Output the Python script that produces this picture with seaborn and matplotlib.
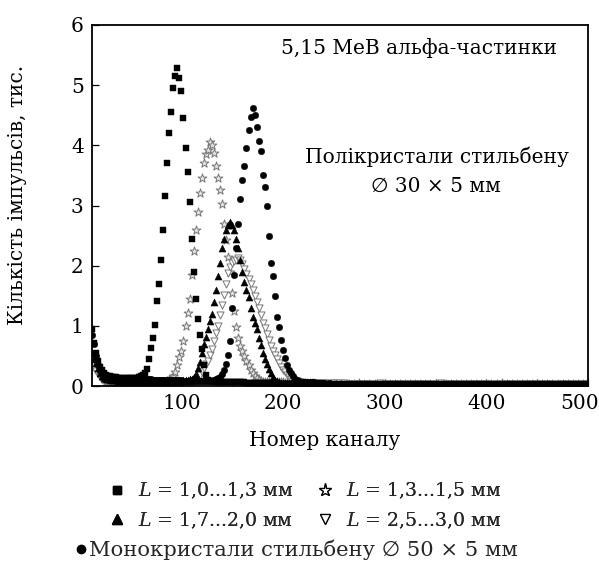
import numpy as np
import pandas as pd
import matplotlib
matplotlib.use("Agg")
import matplotlib.pyplot as plt
import matplotlib.transforms as mtransforms
from matplotlib.lines import Line2D
from matplotlib.ticker import MultipleLocator
import seaborn as sns

# ---------------- data ----------------
PEAK_CHANNELS = np.arange(12, 241, 2)     # channels 12..240
TAIL_CHANNELS = np.arange(245, 501, 5)    # channels 245..500

squares_peak = [
    0.95, 0.72, 0.55, 0.42, 0.32, 0.26, 0.22, 0.19, 0.17, 0.16,
    0.15, 0.15, 0.15, 0.14, 0.14, 0.14, 0.14, 0.14, 0.14, 0.14, 0.14, 0.14, 0.14, 0.15, 0.16, 0.18,
    0.21, 0.28, 0.45, 0.63, 0.80, 1.02, 1.42, 1.69, 2.10, 2.60, 3.15, 3.70, 4.20, 4.55, 4.95, 5.15,
    5.28, 5.12, 4.90, 4.45, 3.95, 3.56, 3.05, 2.45, 1.90, 1.45, 1.12, 0.85, 0.62, 0.35, 0.18, 0.10,
    0.08, 0.08, 0.08, 0.07, 0.07, 0.07, 0.07, 0.07, 0.06, 0.06,
    0.06, 0.06, 0.06, 0.06, 0.06, 0.06, 0.06, 0.06, 0.05, 0.05,
    0.05, 0.05, 0.05, 0.05, 0.05, 0.05, 0.05, 0.05, 0.05, 0.05,
    0.05, 0.05, 0.05, 0.05, 0.04, 0.04, 0.04, 0.04, 0.04, 0.04,
    0.04, 0.04, 0.04, 0.04, 0.04, 0.04, 0.04, 0.04, 0.04, 0.04,
    0.04, 0.04, 0.04, 0.04, 0.04, 0.04, 0.04,
]
stars_peak = [
    0.50, 0.42, 0.35, 0.28, 0.21, 0.16, 0.12, 0.09, 0.08, 0.07,
    0.06, 0.06, 0.05, 0.05, 0.05, 0.05, 0.05, 0.05, 0.05, 0.05, 0.05, 0.05, 0.05,
    0.05, 0.05, 0.05, 0.05, 0.05, 0.05, 0.05, 0.05, 0.05, 0.05, 0.05, 0.06, 0.06,
    0.07, 0.08, 0.10, 0.13, 0.17, 0.24, 0.35, 0.48, 0.58, 0.75,
    1.00, 1.22, 1.45, 1.85, 2.25, 2.60, 2.90, 3.20, 3.45, 3.70,
    3.85, 3.92, 4.05, 4.00, 3.88, 3.65, 3.45, 3.25, 3.02, 2.70,
    2.42, 2.15, 1.90, 1.55, 1.25, 0.98, 0.80, 0.66, 0.58, 0.50,
    0.42, 0.35, 0.27, 0.22, 0.16, 0.13, 0.10, 0.08, 0.07,
    0.06, 0.06, 0.06, 0.06, 0.06, 0.06, 0.06, 0.06, 0.06, 0.06,
    0.05, 0.05, 0.05, 0.05, 0.05, 0.05, 0.05, 0.05, 0.05, 0.05,
    0.05, 0.05, 0.05, 0.05, 0.05, 0.04, 0.04, 0.04, 0.04, 0.04,
]
tri_up_peak = [
    0.55, 0.45, 0.38, 0.30, 0.22, 0.17, 0.14, 0.12, 0.11, 0.10,
    0.10, 0.10, 0.10, 0.09, 0.09, 0.09, 0.09, 0.09, 0.09, 0.09,
    0.09, 0.09, 0.09, 0.09, 0.09, 0.09, 0.09, 0.09, 0.09, 0.09,
    0.09, 0.09, 0.09, 0.09, 0.09, 0.09, 0.09, 0.09, 0.09, 0.09,
    0.09, 0.09, 0.09, 0.09, 0.09, 0.10, 0.10, 0.10, 0.11,
    0.12, 0.15, 0.20, 0.30, 0.40, 0.55, 0.70, 0.82, 0.95, 1.08,
    1.20, 1.40, 1.60, 1.82, 2.05, 2.30, 2.45, 2.60, 2.68, 2.72,
    2.68, 2.60, 2.45, 2.30, 2.10, 1.90, 1.73, 1.60, 1.48, 1.30,
    1.15, 1.05, 0.95, 0.80, 0.68, 0.55, 0.45, 0.36, 0.28, 0.21,
    0.15, 0.10, 0.08, 0.06,
    0.05, 0.05, 0.05, 0.05, 0.05, 0.05, 0.05, 0.05, 0.05, 0.05,
    0.05, 0.05, 0.05, 0.05, 0.05, 0.05, 0.04, 0.04, 0.04, 0.04, 0.04, 0.04,
]
tri_down_peak = [
    0.35, 0.30, 0.25, 0.20, 0.15, 0.12, 0.10, 0.08, 0.07, 0.06,
    0.06, 0.06, 0.05, 0.06, 0.05, 0.05, 0.06, 0.05, 0.05, 0.05,
    0.05, 0.05, 0.05, 0.05, 0.05, 0.05, 0.05, 0.05, 0.05, 0.05,
    0.05, 0.05, 0.05, 0.05, 0.05, 0.05, 0.05, 0.05, 0.05, 0.05,
    0.05, 0.05, 0.05, 0.05, 0.05, 0.05, 0.05, 0.06, 0.06, 0.06,
    0.08, 0.10, 0.14, 0.18, 0.24, 0.30, 0.36, 0.42, 0.52, 0.62,
    0.75, 0.88, 1.00, 1.18, 1.35, 1.52, 1.70, 1.88, 1.98, 2.05,
    2.08, 2.10, 2.12, 2.10, 2.02, 1.94, 1.86, 1.78, 1.70, 1.60,
    1.50, 1.40, 1.30, 1.18, 1.05, 0.96, 0.86, 0.76, 0.66, 0.58,
    0.52, 0.45, 0.38, 0.32, 0.27, 0.23, 0.19, 0.15, 0.12, 0.10,
    0.09, 0.08, 0.07, 0.06,
    0.05, 0.05, 0.05, 0.05, 0.05, 0.05, 0.05, 0.05, 0.05, 0.05, 0.05,
]
circles_peak = [
    0.85, 0.70, 0.50, 0.35, 0.25, 0.20, 0.16, 0.14, 0.13, 0.12,
    0.12, 0.12, 0.11, 0.11, 0.11, 0.11, 0.11, 0.11, 0.11, 0.11,
    0.11, 0.11, 0.11, 0.11, 0.11, 0.11, 0.11, 0.11, 0.11, 0.11,
    0.10, 0.10, 0.10, 0.10, 0.10, 0.10, 0.10, 0.10, 0.10, 0.10,
    0.10, 0.10, 0.10, 0.10, 0.10, 0.09, 0.09, 0.09, 0.09, 0.09,
    0.09, 0.09, 0.09, 0.09, 0.09, 0.09, 0.09, 0.09, 0.09,
    0.09, 0.10, 0.11, 0.13, 0.15, 0.20, 0.27, 0.36, 0.52, 0.75,
    1.30, 1.85, 2.30, 2.70, 3.10, 3.42, 3.65, 3.95, 4.25, 4.47,
    4.62, 4.50, 4.30, 4.08, 3.90, 3.50, 3.30, 3.00, 2.50, 2.05,
    1.82, 1.50, 1.15, 0.98, 0.76, 0.60, 0.46, 0.35, 0.27, 0.21,
    0.16, 0.12, 0.10, 0.08, 0.07,
    0.06, 0.06, 0.06, 0.06, 0.06, 0.06, 0.05, 0.05, 0.05, 0.05, 0.05,
]

squares_tail = [
    0.04, 0.04, 0.04, 0.04, 0.04, 0.04, 0.04, 0.04, 0.04, 0.04, 0.04, 0.04, 0.04,
    0.03, 0.03, 0.03, 0.03, 0.03, 0.03, 0.03, 0.03, 0.03, 0.03, 0.03, 0.03, 0.03,
    0.03, 0.03, 0.03, 0.03, 0.03, 0.03, 0.03, 0.03, 0.03, 0.03, 0.03, 0.03, 0.03,
    0.03, 0.03, 0.03, 0.03, 0.03, 0.03, 0.03, 0.03, 0.03, 0.03, 0.03, 0.03, 0.03,
]
stars_tail = [
    0.04, 0.04, 0.04, 0.04, 0.04, 0.04, 0.05, 0.04, 0.04, 0.04, 0.04, 0.04, 0.04,
    0.04, 0.04, 0.04, 0.04, 0.04, 0.04, 0.04, 0.04, 0.04, 0.04, 0.04, 0.04, 0.04,
    0.04, 0.04, 0.04, 0.04, 0.04, 0.04, 0.04, 0.04, 0.05, 0.04, 0.04, 0.04, 0.04,
    0.04, 0.04, 0.04, 0.04, 0.04, 0.04, 0.04, 0.04, 0.04, 0.04, 0.04, 0.04, 0.04,
]
tri_up_tail = [
    0.04, 0.04, 0.04, 0.04, 0.04, 0.04, 0.04, 0.03, 0.03, 0.03, 0.03, 0.03, 0.03,
    0.03, 0.03, 0.03, 0.03, 0.03, 0.03, 0.03, 0.03, 0.03, 0.03, 0.03, 0.03, 0.03,
    0.03, 0.03, 0.03, 0.03, 0.03, 0.03, 0.03, 0.03, 0.03, 0.03, 0.03, 0.03, 0.03,
    0.03, 0.03, 0.03, 0.03, 0.03, 0.03, 0.03, 0.03, 0.03, 0.03, 0.03, 0.03, 0.03,
]
tri_down_tail = [
    0.05, 0.05, 0.05, 0.05, 0.04, 0.04, 0.04, 0.04, 0.04, 0.04, 0.05, 0.04, 0.04,
    0.04, 0.04, 0.04, 0.04, 0.04, 0.04, 0.04, 0.04, 0.04, 0.05, 0.04, 0.04, 0.04,
    0.04, 0.04, 0.04, 0.04, 0.04, 0.04, 0.04, 0.04, 0.04, 0.04, 0.04, 0.04, 0.04,
    0.04, 0.04, 0.04, 0.04, 0.04, 0.04, 0.04, 0.04, 0.04, 0.04, 0.04, 0.04, 0.04,
]
circles_tail = [
    0.05, 0.04, 0.04, 0.04, 0.04, 0.04, 0.04, 0.04, 0.04, 0.03, 0.03, 0.03, 0.03,
    0.03, 0.03, 0.03, 0.03, 0.03, 0.03, 0.03, 0.03, 0.03, 0.03, 0.03, 0.03, 0.03,
    0.03, 0.03, 0.03, 0.03, 0.03, 0.03, 0.03, 0.03, 0.03, 0.03, 0.03, 0.03, 0.03,
    0.03, 0.03, 0.03, 0.03, 0.03, 0.03, 0.03, 0.03, 0.03, 0.03, 0.03, 0.03, 0.03,
]

LEGEND_LABELS = [
    "$L$ = 1,0...1,3 мм",
    "$L$ = 1,7...2,0 мм",
    "$L$ = 1,3...1,5 мм",
    "$L$ = 2,5...3,0 мм",
]
MONO_LABEL = "Монокристали стильбену ∅ 50 × 5 мм"
X_TICKS = [100, 200, 300, 400, 500]
Y_TICKS = [0, 1, 2, 3, 4, 5, 6]

# ---------------- style ----------------
sns.set_theme(style="ticks")
plt.rcParams["font.family"] = ["DejaVu Serif", "DejaVu Sans"]
plt.rcParams["mathtext.fontset"] = "dejavuserif"

FS = 14.5
FS_LEG = 13.6
FS_MONO = 15.2
fig = plt.figure(figsize=(5.99, 5.62), dpi=100)
ax = fig.add_axes([92 / 599, 1 - 386 / 562, (588 - 92) / 599, (386 - 25) / 562])

channels = np.concatenate([PEAK_CHANNELS, TAIL_CHANNELS])

def frame(peak, tail):
    return pd.DataFrame({"channel": channels, "count": np.concatenate([peak, tail])})

series = [
    (stars_peak, stars_tail, dict(marker="*", s=44, color="#e8e8e8", edgecolor="#777777", linewidth=0.7)),
    (tri_down_peak, tri_down_tail, dict(marker="v", s=26, color="white", edgecolor="#777777", linewidth=0.7)),
    (squares_peak, squares_tail, dict(marker="s", s=15, color="black", edgecolor="black", linewidth=0.3)),
    (tri_up_peak, tri_up_tail, dict(marker="^", s=26, color="black", edgecolor="black", linewidth=0.3)),
    (circles_peak, circles_tail, dict(marker="o", s=22, color="black", edgecolor="black", linewidth=0.3)),
]
for peak, tail, kw in series:
    sns.scatterplot(data=frame(peak, tail), x="channel", y="count", ax=ax, legend=False, **kw)

ax.set_xlim(12, 500)
ax.set_ylim(0, 6)
ax.set_xticks(X_TICKS)
ax.set_xticklabels([str(t) for t in X_TICKS])
ax.xaxis.set_minor_locator(MultipleLocator(50))
ax.set_yticks(Y_TICKS)
ax.set_yticklabels([str(t) for t in Y_TICKS])
ax.tick_params(axis="both", which="both", direction="in", top=False, right=False,
               labelsize=FS, colors="black", width=0.9)
ax.tick_params(axis="both", which="major", length=5, pad=6)
ax.tick_params(axis="x", which="minor", length=5)
for sp in ax.spines.values():
    sp.set_visible(True)
    sp.set_color("black")
    sp.set_linewidth(1.3)

# shift last x tick label left so it stays inside the figure
lbls = ax.get_xticklabels()
lbls[-1].set_transform(lbls[-1].get_transform() +
                       mtransforms.ScaledTranslation(-8 / 100, 0, fig.dpi_scale_trans))

ax.set_xlabel("Номер каналу", fontsize=FS, color="black")
ax.set_ylabel("Кількість імпульсів, тис.", fontsize=FS, color="black")
ax.xaxis.set_label_coords((325 - 92) / (588 - 92), -(441 - 386) / (386 - 25), transform=ax.transAxes)
ax.yaxis.set_label_coords(-(92 - 18) / (588 - 92), (386 - 195) / (386 - 25), transform=ax.transAxes)
ax.xaxis.label.set_va("center")
ax.yaxis.label.set_va("center")

def ax_xy(px, py):
    return ((px - 92) / (588 - 92), (386 - py) / (386 - 25))

ax.text(*ax_xy(419, 48), "5,15 МеВ альфа-частинки", transform=ax.transAxes,
        ha="center", va="center", fontsize=FS, color="black")
ax.text(*ax_xy(437, 157), "Полікристали стильбену", transform=ax.transAxes,
        ha="center", va="center", fontsize=FS, color="black")
ax.text(*ax_xy(436, 186), "∅ 30 × 5 мм", transform=ax.transAxes,
        ha="center", va="center", fontsize=FS, color="black")

handles = [
    Line2D([], [], ls="", marker="s", markersize=6, color="black"),
    Line2D([], [], ls="", marker="^", markersize=7.5, color="black"),
    Line2D([], [], ls="", marker="*", markersize=9.5, markerfacecolor="white",
           markeredgecolor="black", markeredgewidth=0.9),
    Line2D([], [], ls="", marker="v", markersize=7.5, markerfacecolor="white",
           markeredgecolor="black", markeredgewidth=0.9),
]
leg1 = fig.legend(handles, LEGEND_LABELS, ncol=2, loc="center left",
                  bbox_to_anchor=(107.5 / 599, 1 - 505.5 / 562), frameon=False,
                  fontsize=FS_LEG, handlelength=1.0, handletextpad=0.6,
                  columnspacing=1.2, labelspacing=0.5, borderpad=0, borderaxespad=0)
fig.add_artist(leg1)
leg2 = fig.legend([Line2D([], [], ls="", marker="o", markersize=6, color="black")],
                  [MONO_LABEL], loc="center left", bbox_to_anchor=(74.7 / 599, 1 - 550 / 562),
                  frameon=False, fontsize=FS_MONO, handlelength=0.6, handletextpad=0.08,
                  borderpad=0, borderaxespad=0)

fig.savefig("out.png", dpi=100)
